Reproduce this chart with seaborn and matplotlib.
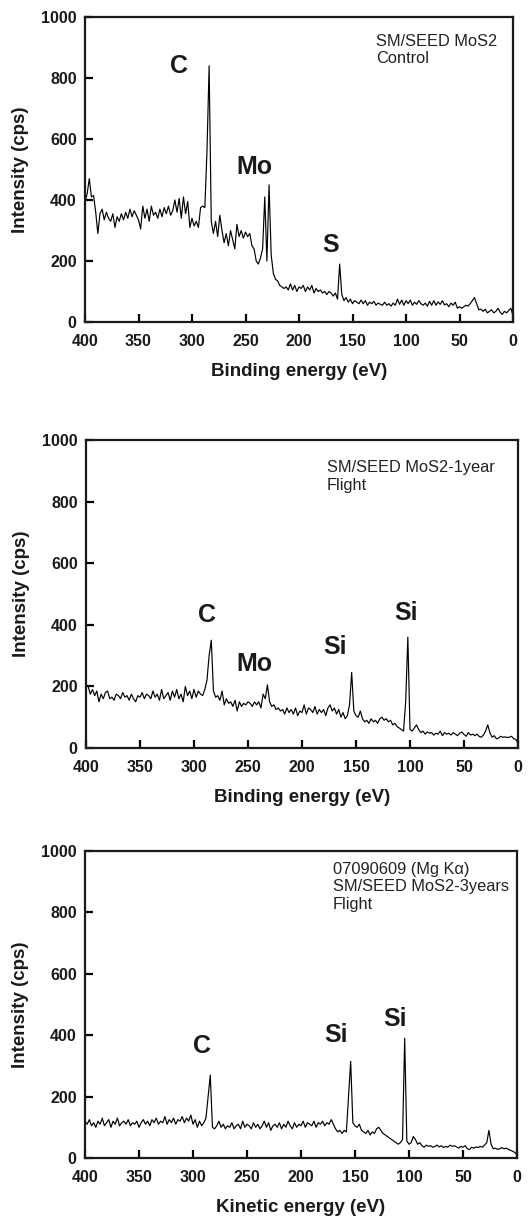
import numpy as np
import pandas as pd
import matplotlib
matplotlib.use("Agg")
import matplotlib.pyplot as plt
import seaborn as sns

# Binding / kinetic energy grid (eV), 400 -> 0 in 2 eV steps
energy = np.arange(400, -1, -2)

control = [
    395, 420, 470, 410, 415, 360, 290, 355, 370, 335,   # 400-382
    360, 340, 330, 355, 310, 345, 330, 355, 335, 360,   # 380-362
    340, 370, 345, 365, 350, 335, 305, 380, 340, 370,   # 360-342
    330, 380, 350, 360, 340, 370, 345, 375, 355, 380,   # 340-322
    350, 365, 400, 360, 405, 340, 410, 355, 395, 310,   # 320-302
    340, 315, 330, 310, 375, 380, 375, 560, 840, 330,   # 300-282
    290, 330, 280, 350, 300, 260, 290, 250, 300, 270,   # 280-262
    240, 320, 280, 300, 275, 295, 280, 290, 250, 240,   # 260-242
    200, 190, 210, 240, 410, 200, 450, 220, 160, 140,   # 240-222
    135, 120, 115, 110, 115, 105, 125, 105, 120, 100,   # 220-202
    115, 110, 120, 100, 115, 105, 120, 95, 110, 100,    # 200-182
    105, 95, 100, 90, 100, 95, 85, 95, 75, 190,         # 180-162
    90, 70, 80, 65, 75, 60, 70, 65, 60, 72,             # 160-142
    60, 70, 55, 65, 60, 68, 55, 62, 58, 55,             # 140-122
    65, 55, 60, 52, 62, 55, 75, 58, 72, 55,             # 120-102
    70, 60, 72, 55, 65, 58, 70, 60, 55, 62,             # 100-82
    52, 68, 55, 70, 55, 66, 58, 70, 56, 60,             # 80-62
    50, 62, 55, 65, 45, 50, 45, 50, 55, 52,             # 60-42
    60, 70, 80, 60, 40, 42, 35, 42, 30, 35,             # 40-22
    40, 30, 35, 45, 32, 25, 35, 30, 38, 45,             # 20-2
    20,                                                 # 0
]

flight_1yr = [
    205, 200, 175, 190, 170, 185, 150, 175, 160, 180,
    185, 160, 165, 155, 175, 170, 160, 180, 165, 170,
    155, 175, 160, 150, 170, 165, 180, 160, 175, 170,
    160, 185, 165, 175, 155, 190, 160, 170, 180, 155,
    185, 165, 190, 160, 175, 150, 200, 170, 185, 160,
    190, 165, 185, 175, 170, 190, 220, 300, 350, 185,
    165, 170, 155, 185, 140, 160, 145, 150, 135, 155,
    120, 150, 135, 145, 140, 150, 145, 135, 150, 140,
    150, 130, 175, 160, 205, 150, 135, 140, 125, 130,
    120, 125, 110, 130, 115, 125, 110, 130, 105, 120,
    115, 140, 110, 130, 125, 115, 135, 110, 125, 115,
    125, 105, 130, 140, 120, 130, 110, 125, 100, 115,
    95, 105, 140, 245, 120, 105, 100, 120, 95, 85,
    90, 80, 95, 85, 90, 80, 95, 100, 90, 95,
    85, 90, 75, 80, 70, 65, 60, 55, 150, 360,
    60, 55, 65, 75, 60, 50, 55, 45, 52, 48,
    50, 42, 48, 45, 55, 40, 50, 45, 48, 42,
    50, 45, 40, 48, 52, 44, 38, 50, 42, 45,
    40, 45, 38, 35, 42, 55, 75, 50, 35, 40,
    30, 32, 38, 35, 36, 34, 35, 38, 30, 28,
    15,
]

flight_3yr = [
    120, 110, 125, 105, 115, 100, 120, 110, 130, 105,
    115, 125, 100, 120, 110, 130, 105, 115, 120, 110,
    125, 105, 115, 110, 120, 100, 115, 125, 110, 120,
    105, 125, 115, 130, 110, 120, 115, 135, 110, 125,
    115, 130, 110, 125, 120, 135, 115, 130, 120, 140,
    110, 125, 100, 120, 105, 115, 130, 200, 270, 100,
    95, 105, 120, 100, 110, 95, 105, 100, 115, 95,
    105, 110, 95, 120, 100, 110, 105, 95, 115, 100,
    110, 95, 105, 120, 100, 115, 90, 105, 110, 100,
    115, 95, 110, 100, 120, 105, 95, 115, 100, 110,
    105, 120, 100, 115, 110, 105, 120, 100, 115, 110,
    120, 105, 115, 110, 125, 110, 95, 85, 90, 80,
    90, 85, 200, 315, 115, 105, 100, 110, 90, 85,
    80, 90, 75, 85, 80, 95, 100, 90, 80, 75,
    70, 65, 60, 55, 50, 45, 50, 60, 390, 55,
    45, 50, 70, 60, 45, 50, 40, 35, 42, 38,
    40, 35, 38, 42, 36, 40, 34, 38, 35, 42,
    38, 40, 36, 32, 38, 35, 40, 30, 28, 35,
    32, 36, 34, 38, 35, 42, 50, 90, 45, 30,
    32, 28, 30, 34, 30, 32, 28, 25, 22, 18,
    10,
]

x_labels = ["Binding energy (eV)", "Binding energy (eV)", "Kinetic energy (eV)"]
corner_texts = [
    "SM/SEED MoS2\nControl",
    "SM/SEED MoS2-1year\nFlight",
    "07090609 (Mg K\u03b1)\nSM/SEED MoS2-3years\nFlight",
]
peak_labels = [
    [("C", 312, 840), ("Mo", 242, 508), ("S", 170, 254)],
    [("C", 288, 431), ("Mo", 244, 274), ("Si", 169, 328), ("Si", 104, 437)],
    [("C", 292, 364), ("Si", 168, 400), ("Si", 113, 454)],
]
corner_pos = [(0.680, 0.945), (0.557, 0.935), (0.573, 0.965)]

sns.set_theme(style="ticks")
plt.rcParams["font.family"] = ["Liberation Sans", "DejaVu Sans"]

fig = plt.figure(figsize=(5.31, 12.18), dpi=100)
rects = [
    [85 / 531, 1 - 322 / 1218, 428 / 531, 305 / 1218],
    [86 / 531, 1 - 748 / 1218, 432 / 531, 308 / 1218],
    [85 / 531, 1 - 1158 / 1218, 432 / 531, 307 / 1218],
]
series = [control, flight_1yr, flight_3yr]

for k in range(3):
    ax = fig.add_axes(rects[k])
    df = pd.DataFrame({"energy": energy, "intensity": series[k]})
    sns.lineplot(data=df, x="energy", y="intensity", ax=ax,
                 color="black", linewidth=0.85)
    ax.set_xlim(400, 0)
    ax.set_ylim(0, 1000)
    ax.set_xticks(np.arange(400, -1, -50))
    ax.set_yticks(np.arange(0, 1001, 200))
    ax.tick_params(direction="in", length=6, width=1.6, labelsize=11.5,
                   colors="black")
    ax.tick_params(axis="x", pad=9)
    ax.tick_params(axis="y", pad=6)
    for lab in ax.get_xticklabels() + ax.get_yticklabels():
        lab.set_fontweight("bold")
        lab.set_color("#1a1a1a")
    for sp in ax.spines.values():
        sp.set_visible(True)
        sp.set_linewidth(1.6)
        sp.set_color("#1a1a1a")
    ax.set_xlabel(x_labels[k], fontsize=13.5, fontweight="bold",
                  labelpad=10, color="#1a1a1a")
    ax.set_ylabel("Intensity (cps)", fontsize=13.5, fontweight="bold",
                  labelpad=9, color="#1a1a1a")
    for txt, xx, yy in peak_labels[k]:
        ax.text(xx, yy, txt, fontsize=18, fontweight="bold",
                ha="center", va="center", color="#1a1a1a")
    cx, cy = corner_pos[k]
    ax.text(cx, cy, corner_texts[k], transform=ax.transAxes, fontsize=11.8,
            ha="left", va="top", linespacing=1.22, color="#222222")

fig.savefig("out.png", dpi=100)
